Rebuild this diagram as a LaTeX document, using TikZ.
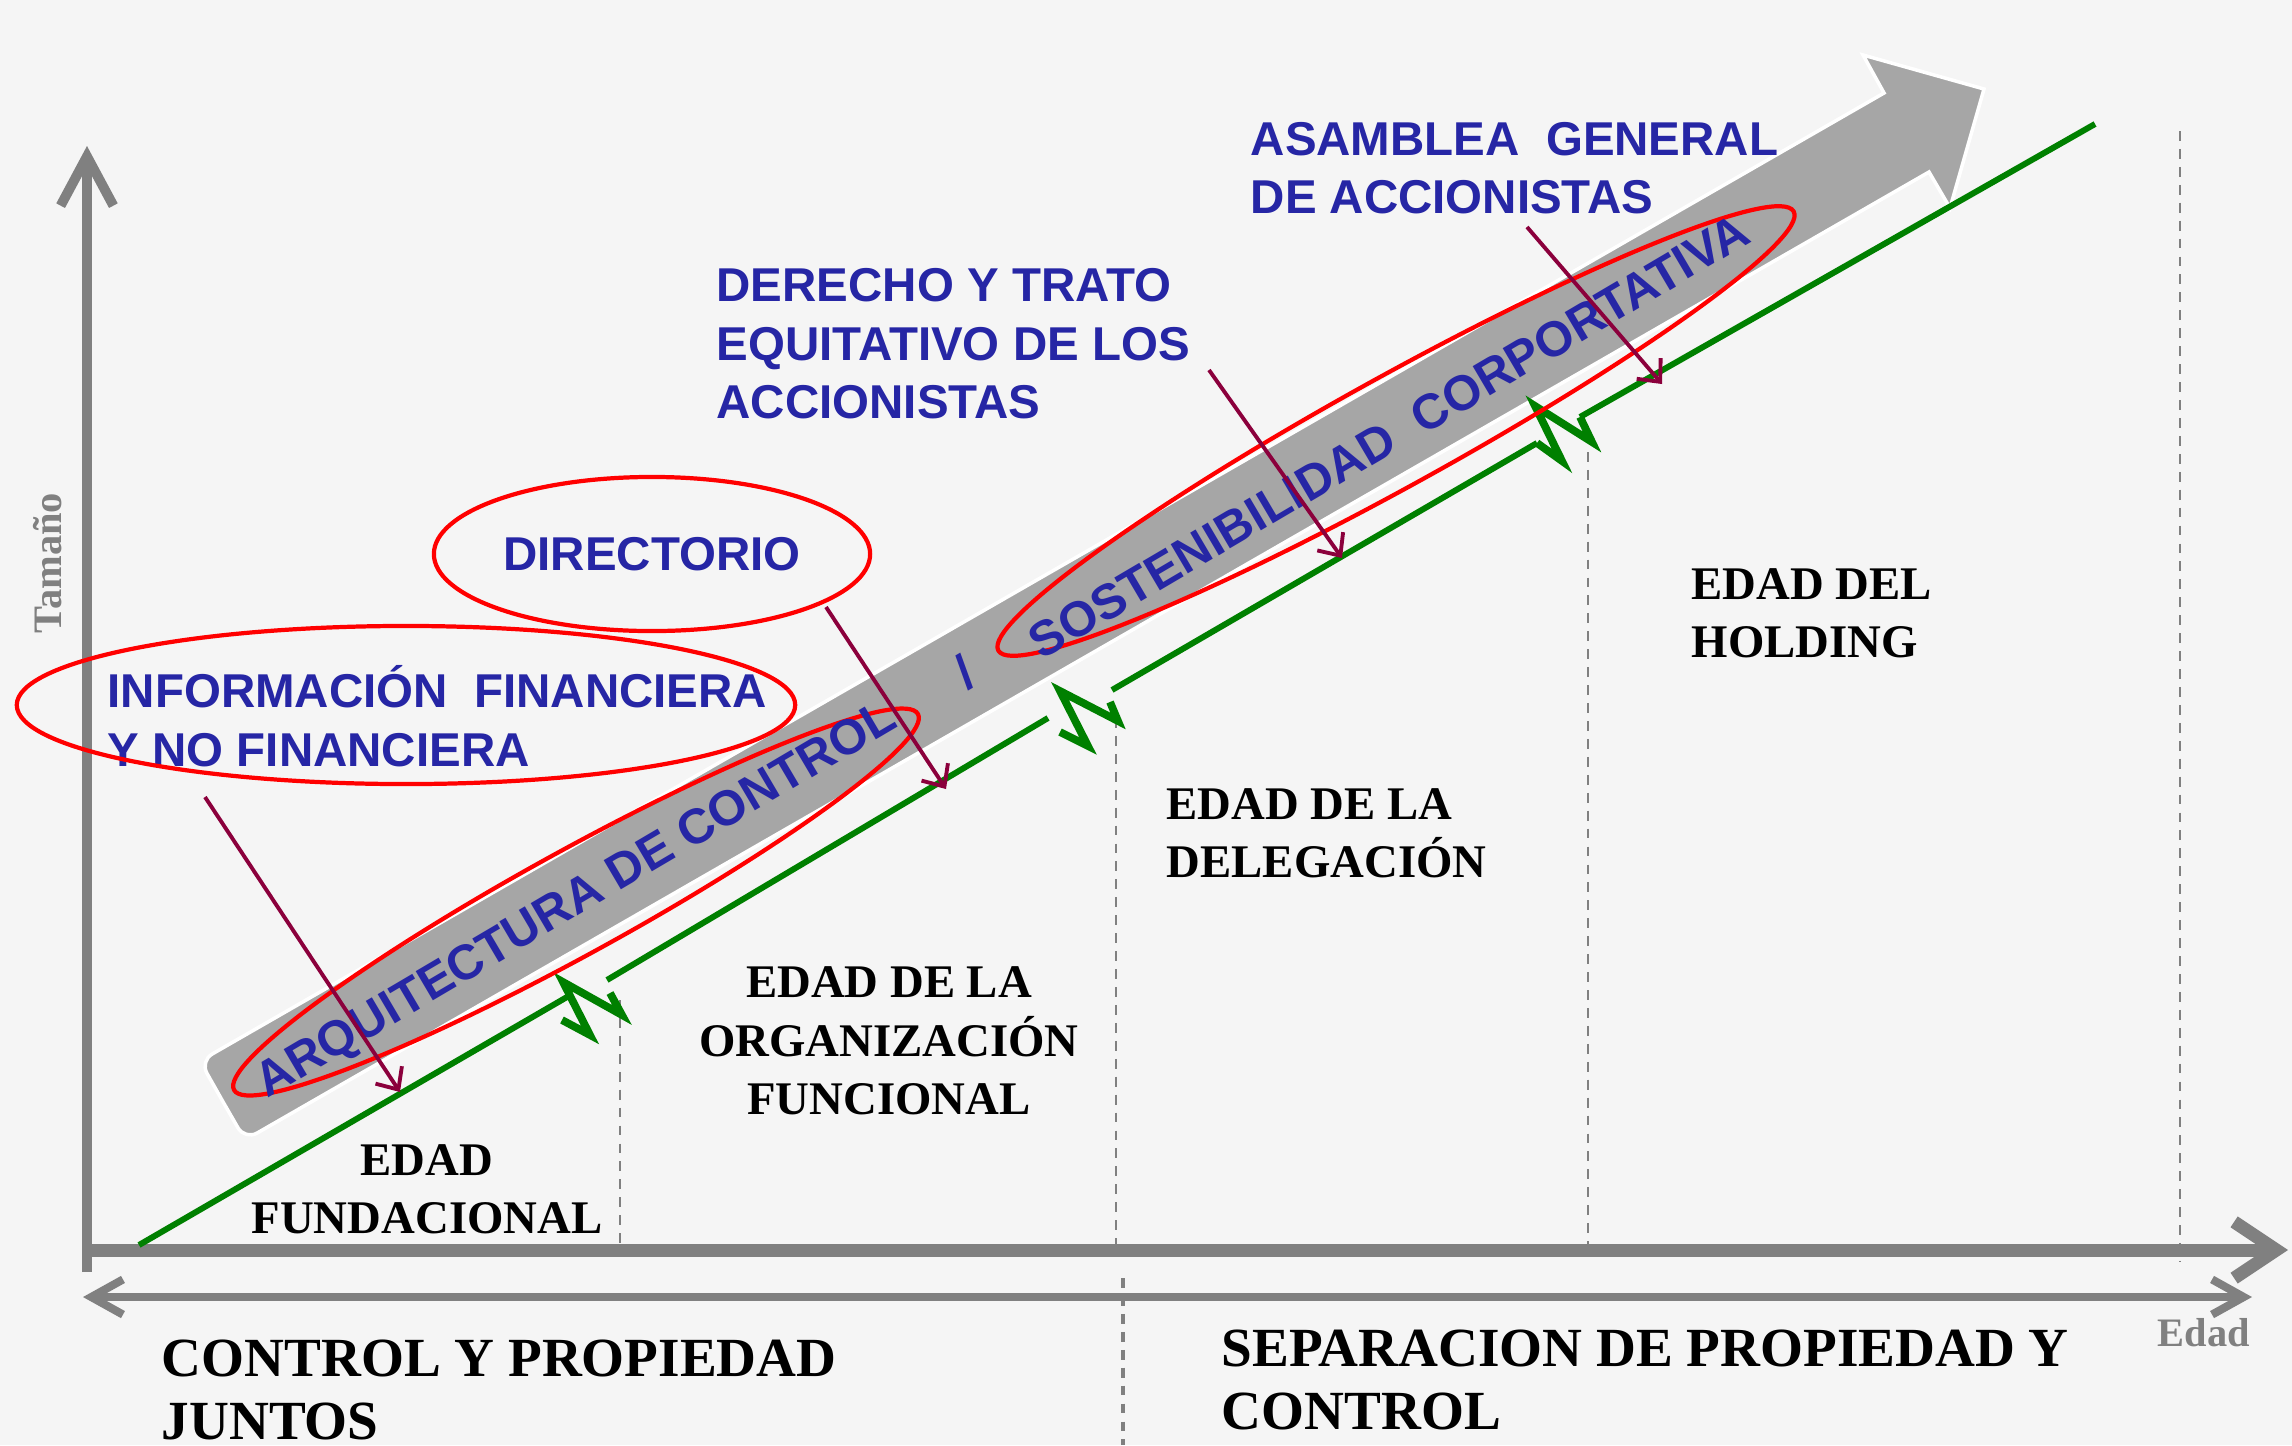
\documentclass[tikz,border=0pt]{standalone}
\usepackage{fontspec}
\setmainfont{Liberation Serif}
\newfontfamily\arialfont{Liberation Sans}
\usetikzlibrary{arrows.meta,shapes.geometric}
\definecolor{paper}{RGB}{245,245,245}
\definecolor{axisgray}{RGB}{128,128,128}
\definecolor{bandgray}{RGB}{166,166,166}
\definecolor{govblue}{RGB}{38,38,165}
\definecolor{pointred}{RGB}{139,0,60}
\definecolor{stagegreen}{RGB}{0,128,0}
\tikzset{
	stage/.style={font=\bfseries\fontsize{13.3}{16.6}\selectfont, align=center, inner sep=0pt},
	owner/.style={font=\bfseries\fontsize{15.7}{18}\selectfont, align=left, inner sep=0pt, anchor=west},
	gov/.style={font=\arialfont\bfseries\fontsize{13.5}{16.6}\selectfont, text=govblue, align=left, inner sep=0pt},
	govtilt/.style={gov, font=\arialfont\bfseries\fontsize{14}{16}\selectfont, rotate=30.5},
	ring/.style={draw=red, line width=1.2pt, ellipse, inner sep=0pt},
	pointer/.style={draw=pointred, line width=1.1pt, -{Straight Barb[length=5pt,width=9pt]}},
	growth/.style={draw=stagegreen, line width=1.7pt},
	zig/.style={draw=stagegreen, line width=2.2pt, line join=miter},
	cut/.style={draw=axisgray, line width=0.6pt, dash pattern=on 2.8pt off 2.3pt},
	axislbl/.style={font=\bfseries\fontsize{11.5}{13}\selectfont, text=axisgray, inner sep=0pt}
}
\begin{document}
\begin{tikzpicture}[x=0.01cm, y=-0.01cm]
	\fill[paper] (0,0) rectangle (2292,1445);
	\useasboundingbox (0,0) rectangle (2292,1445);
	\draw[cut] (620,1000) -- (620,1250);
	\draw[cut] (1116,718) -- (1116,1250);
	\draw[cut] (1588,452) -- (1588,1250);
	\draw[cut] (2180,131) -- (2180,1262);
	\draw[cut, line width=0.9pt] (1123,1278) -- (1123,1445);
	\draw[axisgray, line width=2.8pt, -{Straight Barb[length=14pt,width=15pt]}] (87,1272) -- (87,146);
	\draw[axisgray, line width=3.7pt, -{Straight Barb[length=12pt,width=16pt]}] (87,1250) -- (2288,1250);
	\draw[axisgray, line width=2.3pt, {Straight Barb[length=9pt,width=10pt]}-{Straight Barb[length=9pt,width=10pt]}] (83,1297) -- (2252,1297);
	\fill[bandgray, draw=white, line width=1pt] (222,1100) [rounded corners=4pt] -- (200,1061) [sharp corners] -- (1884,93) -- (1863,55) -- (1984,89) -- (1950,208) -- (1929,172) [rounded corners=4pt] -- (245,1140) [sharp corners] -- cycle;
	\draw[growth] (139,1245) -- (567,997);
	\draw[zig] (562,1020) -- (590,1035) -- (563,982) -- (622,1015) -- (610,993);
	\draw[growth] (607,980) -- (1048,718);
	\draw[zig] (1060,732) -- (1088,746) -- (1060,691) -- (1118,721) -- (1110,702);
	\draw[growth] (1112,690) -- (1537,443);
	\draw[zig] (1537,443) -- (1562,461) -- (1535,406) -- (1592,442) -- (1580,417);
	\draw[growth] (1580,417) -- (2095,124);
	\node[ring, minimum width=7.8cm, minimum height=1.04cm, rotate=28.8] (arqRing) at (576,902) {};
	\node[govtilt] (arq) at (577,902) {ARQUITECTURA DE CONTROL};
	\node[govtilt] (slash) at (965,672) {/};
	\node[ring, minimum width=9.08cm, minimum height=1.1cm, rotate=28.9] (sostRing) at (1396,431) {};
	\node[govtilt] (sost) at (1389,436) {SOSTENIBILIDAD~ CORPORTATIVA};
	\node[gov, anchor=west] (asamblea) at (1250,168) {ASAMBLEA~ GENERAL\\DE ACCIONISTAS};
	\node[gov, anchor=west] (derecho) at (716,344) {DERECHO Y TRATO\\EQUITATIVO DE LOS\\ACCIONISTAS};
	\node[gov, ring, minimum width=4.36cm, minimum height=1.54cm] (directorio) at (652,554) {DIRECTORIO};
	\node[gov, anchor=west] (info) at (107,716) {INFORMACIÓN~ FINANCIERA\\Y NO FINANCIERA};
	\node[ring, minimum width=7.78cm, minimum height=1.58cm] (infoRing) at (406,705) {};
	\coordinate (infoTail) at (205,797);
	\coordinate (infoHead) at (400,1092);
	\coordinate (dirTail) at (826,607);
	\coordinate (dirHead) at (946,789);
	\coordinate (derTail) at (1209,370);
	\coordinate (derHead) at (1342,558);
	\coordinate (asaTail) at (1527,227);
	\coordinate (asaHead) at (1662,384);
	\draw[pointer] (infoTail) -- (infoHead);
	\draw[pointer] (dirTail) -- (dirHead);
	\draw[pointer] (derTail) -- (derHead);
	\draw[pointer] (asaTail) -- (asaHead);
	\node[stage] (fundacional) at (427,1189) {EDAD\\FUNDACIONAL};
	\node[stage] (funcional) at (889,1041) {EDAD DE LA\\ORGANIZACIÓN\\FUNCIONAL};
	\node[stage, align=left, anchor=west] (delegacion) at (1166,833) {EDAD DE LA\\DELEGACIÓN};
	\node[stage, align=left, anchor=west] (holding) at (1691,613) {EDAD DEL\\HOLDING};
	\node[owner] (juntos) at (161,1390) {CONTROL Y PROPIEDAD\\JUNTOS};
	\node[owner] (separacion) at (1221,1380) {SEPARACION DE PROPIEDAD Y\\CONTROL};
	\node[axislbl, rotate=90] (tamano) at (48,563) {Tamaño};
	\node[axislbl] (edad) at (2204,1333) {Edad};
\end{tikzpicture}
\end{document}
